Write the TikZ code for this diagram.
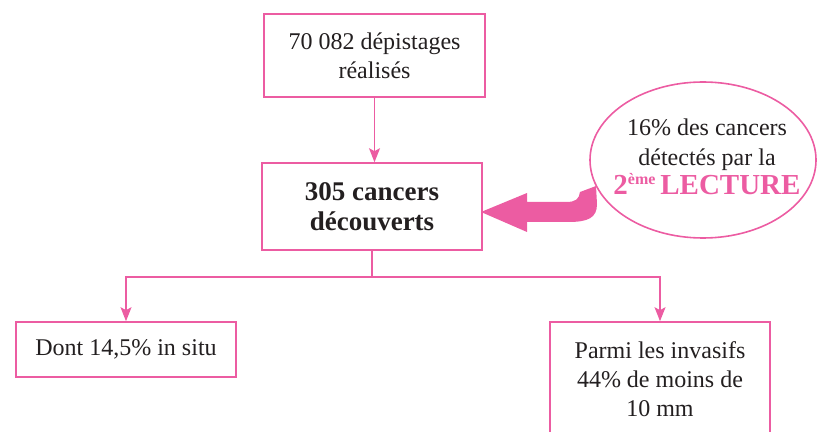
\documentclass[tikz,border=0pt]{standalone}
\usepackage{fontspec}
\setmainfont{Liberation Serif}
\usetikzlibrary{arrows.meta}
\definecolor{rose}{RGB}{236,92,162}
\definecolor{encre}{RGB}{35,31,32}
\tikzset{
  boite/.style={draw=rose, line width=0.8pt, text=encre, align=center,
    inner sep=0pt, minimum width=110pt, font=\fontsize{12}{14.5}\selectfont},
  fleche/.style={rose, line width=0.8pt, -{Stealth[length=7pt, width=5.5pt, inset=1.5pt]}},
  trait/.style={rose, line width=0.8pt},
}
\begin{document}
\begin{tikzpicture}[x=0.5pt, y=-0.5pt]
\useasboundingbox (0,0) rectangle (818,432);

%% ---- Boites (coordonnees en pixels, y vers le bas) ----
\node[boite, minimum width=110.5pt, minimum height=41.5pt] (depist) at (374.5,55.5)
    {70 082 dépistages\\réalisés};
\node[boite, minimum height=43.5pt, font=\fontsize{13.5}{15}\selectfont\bfseries]
    (cancers) at (372,206.5) {305 cancers\\découverts};
\node[boite, minimum height=27.5pt] (situ) at (126,349.5) {Dont 14,5\% in situ};
\node[boite, minimum height=57pt] (invasifs) at (660,379)
    {Parmi les invasifs\\44\% de moins de\\10 mm};

%% ---- Bulle 2eme lecture ----
\draw[trait] (703,160) ellipse [x radius=113, y radius=78];
\node[text=encre, align=center, inner sep=0pt, font=\fontsize{12}{14.8}\selectfont]
    (lecture) at (707,157)
    {16\% des cancers\\détectés par la\\
     {\color{rose}\fontsize{14.5}{15}\selectfont\bfseries
      2\raisebox{5pt}{\fontsize{8}{8}\selectfont ème}\,LECTURE}};

%% ---- Fleches ----
\draw[fleche] (depist.south) -- (depist.south |- cancers.north);
\draw[trait] (cancers.south) -- ++(0,26) coordinate (branche);
\draw[fleche] (branche) -| (situ.north);
\draw[fleche] (branche) -| (invasifs.north);

%% ---- Grosse fleche vers les cancers ----
\fill[rose] (596,186) -- (597,204) .. controls (597,218) and (588,222) .. (568,222)
    -- (527,222) -- (527,232) -- (481,212) -- (527,193) -- (527,202) -- (566,202)
    .. controls (576,202) and (579,199) .. (580,192) -- cycle;

\end{tikzpicture}
\end{document}
